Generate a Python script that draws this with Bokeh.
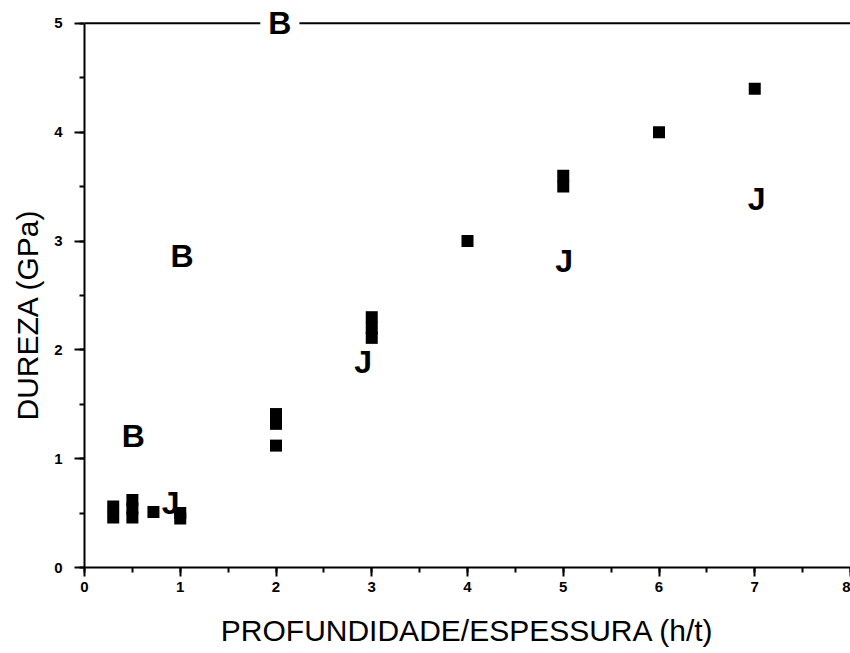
from bokeh.plotting import figure
from bokeh.models import Range1d, SingleIntervalTicker, Span, Title
from bokeh.core.properties import value
from bokeh.embed import file_html
from bokeh.resources import INLINE

# Hardness (GPa) against depth/thickness ratio h/t
sq_x = [0.3, 0.3, 0.5, 0.5, 0.5, 0.72, 1.0, 1.0, 2.0, 2.0, 2.0, 3.0, 3.0, 3.0, 4.0, 5.0, 5.0, 6.0, 7.0]
sq_y = [0.56, 0.46, 0.62, 0.54, 0.46, 0.51, 0.50, 0.45, 1.41, 1.32, 1.12, 2.30, 2.20, 2.11, 3.00, 3.60, 3.50, 4.00, 4.40]

b_x = [0.51, 1.02, 2.04]
b_y = [1.21, 2.86, 5.00]

j_x = [0.90, 2.91, 5.01, 7.02]
j_y = [0.59, 1.89, 2.82, 3.39]

x_title = "PROFUNDIDADE/ESPESSURA (h/t)"
y_title = "DUREZA (GPa)"

FONT = "Liberation Sans"

p = figure(
    width=850, height=653,
    x_range=Range1d(0, 8), y_range=Range1d(0, 5.21),
    output_backend="svg", toolbar_location=None,
    min_border_left=83, min_border_right=0, min_border_top=0, min_border_bottom=86,
    background_fill_color="white", border_fill_color="white",
)
p.outline_line_color = None
p.grid.visible = False

for ax, bounds in ((p.xaxis[0], (0, 8)), (p.yaxis[0], (0, 5))):
    ax.ticker = SingleIntervalTicker(interval=1, num_minor_ticks=2)
    ax.bounds = bounds
    ax.axis_line_width = 2
    ax.axis_line_color = "black"
    ax.major_tick_line_width = 2
    ax.minor_tick_line_width = 2
    ax.major_tick_in = 0
    ax.minor_tick_in = 0
    ax.major_label_text_font = FONT
    ax.major_label_text_font_style = "bold"
    ax.major_label_text_font_size = "15px"
    ax.major_label_text_color = "black"

p.xaxis.major_tick_out = 9
p.xaxis.minor_tick_out = 5
p.xaxis.major_label_standoff = 5

p.yaxis.major_tick_out = 10
p.yaxis.minor_tick_out = 5
p.yaxis.major_label_standoff = 12

# axis titles as side-panel titles so they can be nudged along the axis;
# the x title gets a short blank first line to sit lower under the tick labels
title_kw = dict(text_font=FONT, text_font_size="30px", text_font_style="normal",
                text_color="black")
p.add_layout(Title(text="\n" + x_title, standoff=0, align="center",
                   text_line_height=0.5, **title_kw), "below")
p.add_layout(Title(text=y_title, standoff=16, align="left", offset=147, **title_kw), "left")

# top frame line at y = 5
p.add_layout(Span(location=5, dimension="width", line_color="black", line_width=2))

p.scatter(sq_x, sq_y, marker="square", size=12, fill_color="black", line_color="black", line_width=0)

p.text(j_x, j_y, text=["J"] * len(j_x), text_font=value(FONT), text_font_style="bold",
       text_font_size="32px", text_align="center", text_baseline="middle", text_color="black")

b_r = p.text(b_x, b_y, text=["B"] * len(b_x), text_font=value(FONT), text_font_style="bold",
             text_font_size="32px", text_align="center", text_baseline="middle", text_color="black",
             background_fill_color="white", padding=8)
b_r.level = "overlay"

open("out.html", "w").write(file_html(p, INLINE))
